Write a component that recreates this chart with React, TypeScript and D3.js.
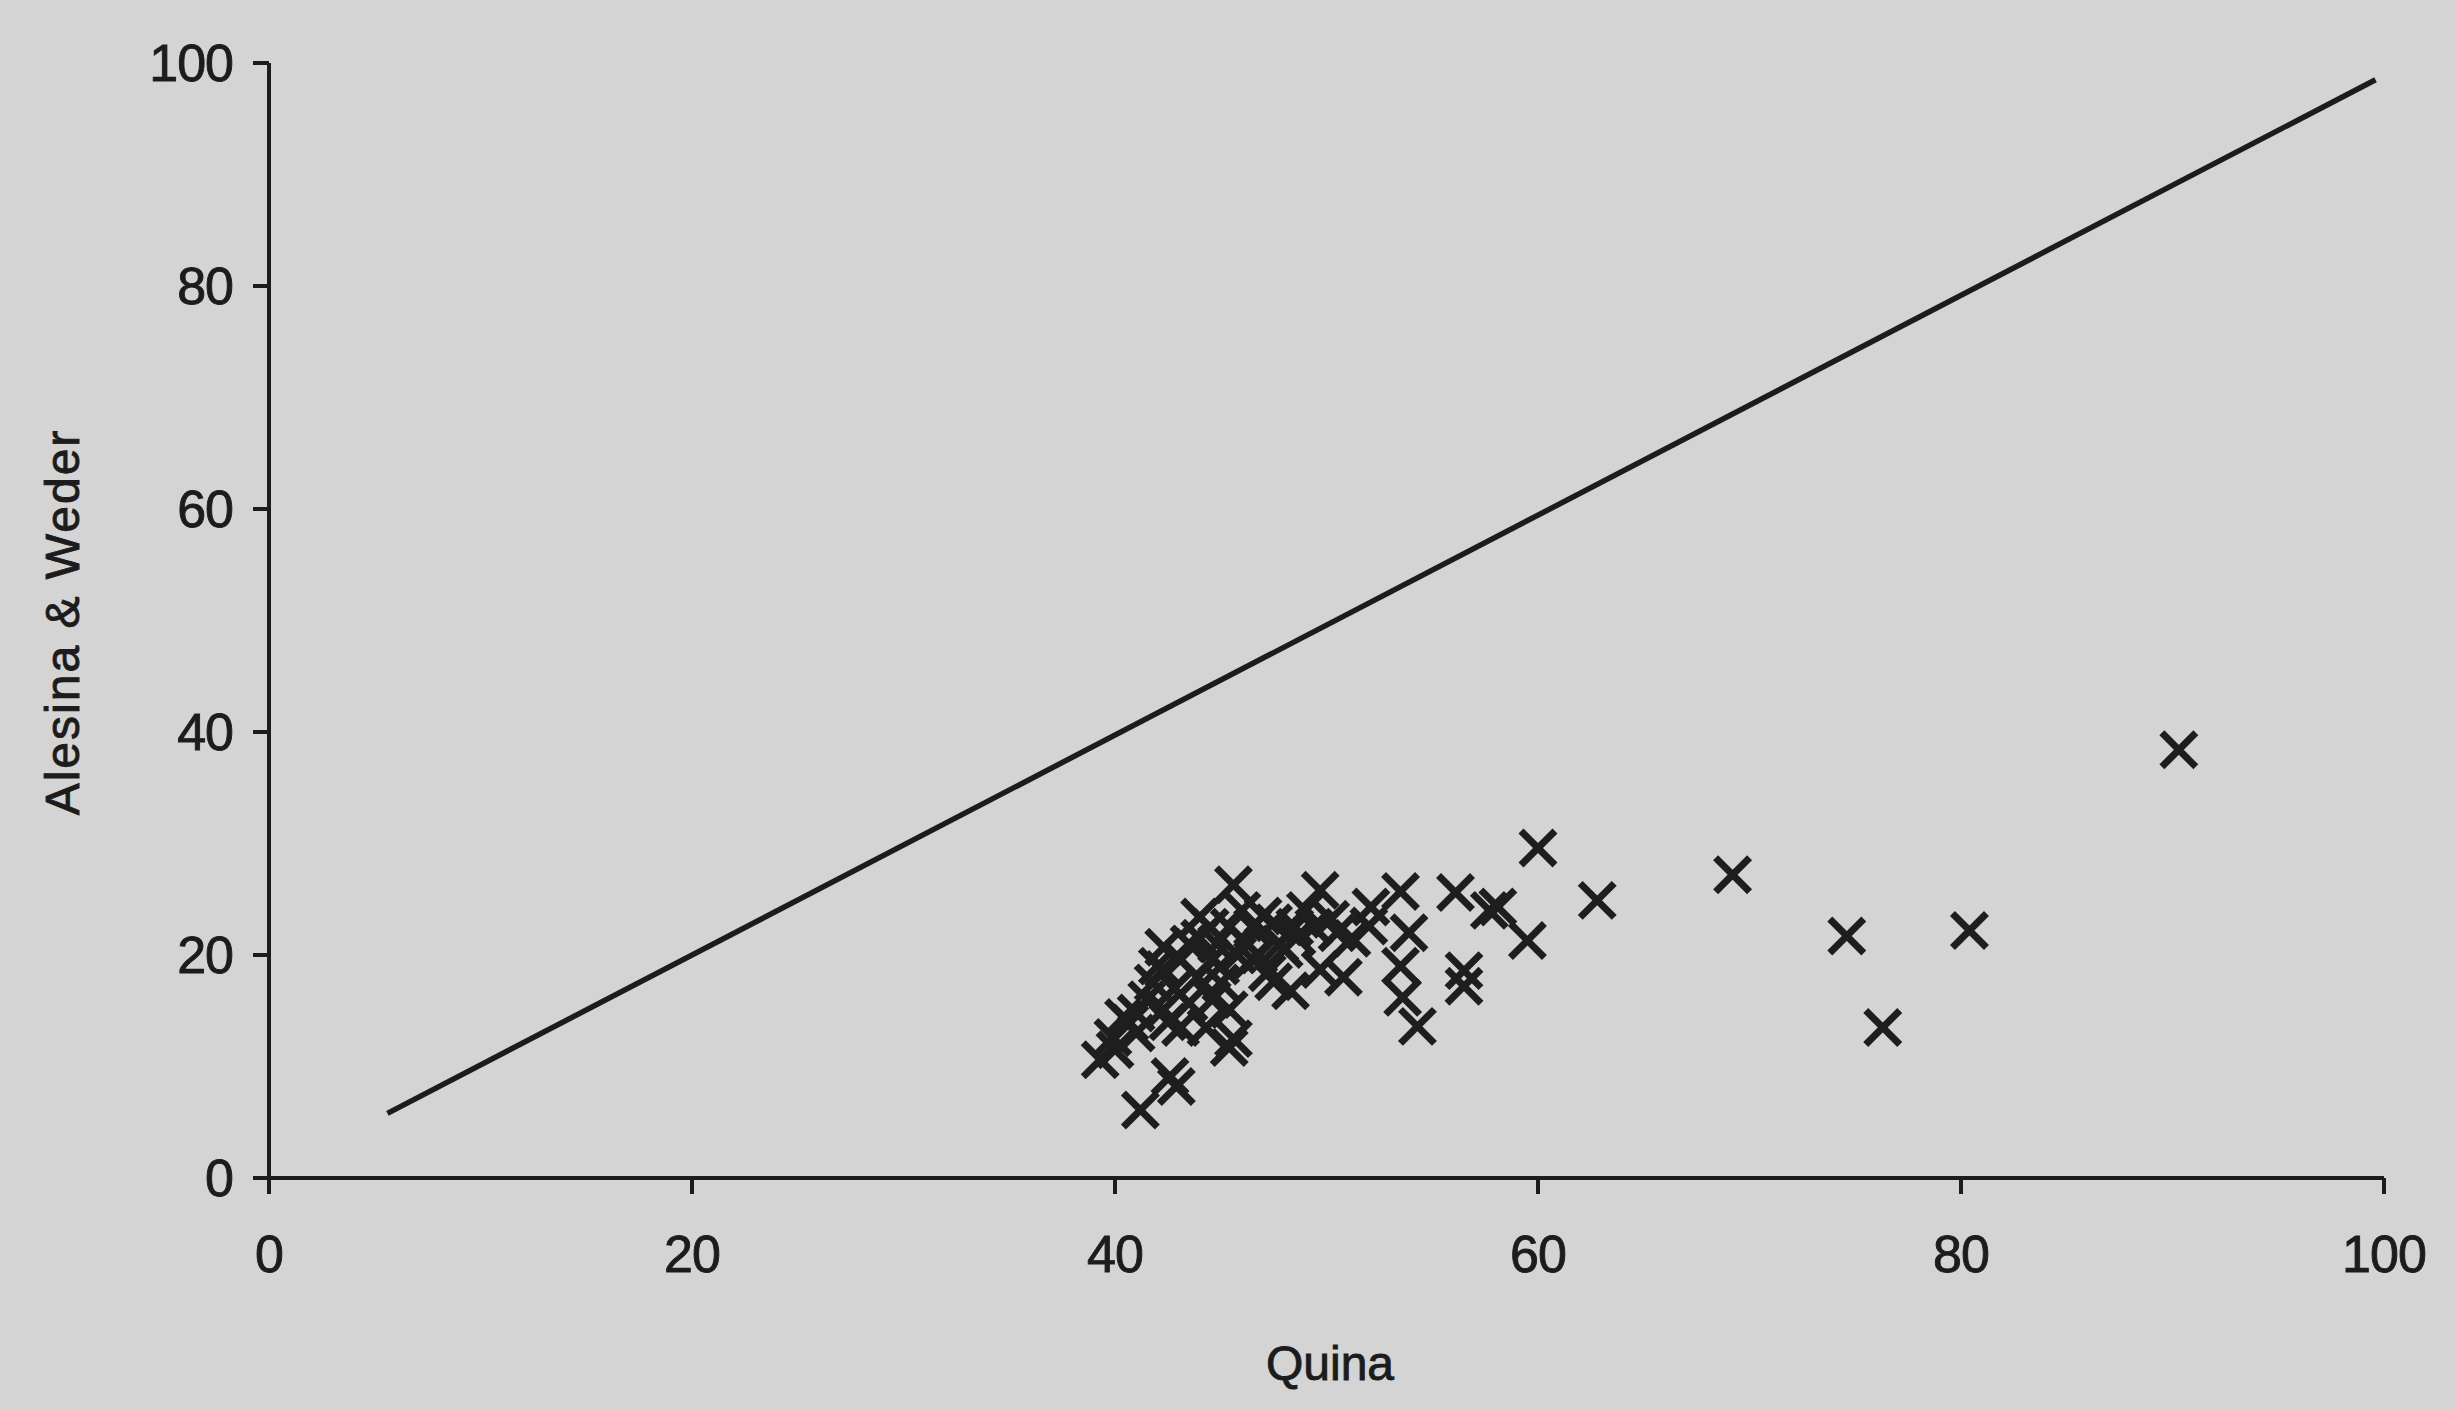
import React from "react";
import * as d3 from "d3";

const quina: number[] = [
  90.3, 80.4, 76.3, 74.6, 69.2, 62.8, 60.0, 59.5,
  58.1, 57.7, 56.1, 56.5, 56.5, 54.3, 53.6, 53.5, 53.9, 53.5, 52.1, 52.0, 50.8, 50.5, 49.7, 49.7, 49.4, 48.6, 48.3, 47.5,
  47.5, 47.2, 46.5, 46.2, 45.6, 45.4, 45.4, 45.4, 45.6, 44.6, 44.6, 44.3, 44.0, 43.9, 43.5, 43.1, 43.1, 42.9, 42.6, 42.3,
  42.3, 42.3, 41.5, 41.2, 40.7, 40.4, 39.9, 39.3, 41.0, 44.8, 46.0, 48.0, 47.0, 49.0, 50.2, 51.2, 45.0, 46.8, 44.0, 42.8,
  41.8, 42.0, 43.5, 44.5, 45.8, 46.5, 41.0, 40.0, 42.5, 45.0, 48.5, 47.8,
];
const alesinaWeder: number[] = [
  38.4, 22.2, 13.5, 21.7, 27.2, 24.9, 29.6, 21.3,
  24.3, 24.0, 25.6, 18.6, 17.2, 13.6, 16.2, 19.0, 22.0, 25.7, 24.3, 22.6, 18.0, 22.0, 25.8, 18.7, 22.5, 21.6, 16.8, 17.6,
  22.9, 18.4, 19.6, 21.1, 26.3, 22.5, 15.1, 11.7, 12.5, 19.6, 16.0, 13.5, 23.4, 18.0, 15.7, 19.6, 13.5, 8.2, 9.1, 20.7,
  18.7, 15.1, 16.0, 6.1, 13.9, 14.4, 12.6, 10.6, 14.8, 21.0, 24.0, 20.5, 23.5, 24.0, 23.2, 21.5, 17.5, 20.0, 21.5, 17.0,
  17.5, 19.0, 21.0, 22.5, 20.0, 22.5, 13.0, 11.5, 14.0, 19.0, 22.5, 21.0,
];
const refLineX: number[] = [5.6, 99.6];
const refLineY: number[] = [5.8, 98.5];
const xTicks: number[] = [0, 20, 40, 60, 80, 100];
const yTicks: number[] = [0, 20, 40, 60, 80, 100];
const xTitle = "Quina";
const yTitle = "Alesina & Weder";

const W = 2456;
const H = 1410;
const FONT = "'Liberation Sans', Arial, sans-serif";
const INK = "#1c1c1c";

export default function App() {
  const x = d3.scaleLinear().domain([0, 100]).range([269, 2384]);
  const y = d3.scaleLinear().domain([0, 100]).range([1178, 63]);
  const line = d3
    .line<[number, number]>()
    .x((d) => x(d[0]))
    .y((d) => y(d[1]));
  const refPts: [number, number][] = refLineX.map((v, i) => [v, refLineY[i]]);
  const pts = quina.map((v, i) => ({ qx: v, ay: alesinaWeder[i] }));
  const m = 17;
  const textStyle = { stroke: INK, strokeWidth: 0.9 };

  return (
    <div style={{ position: "absolute", left: 0, top: 0 }}>
      <svg width={W} height={H} style={{ display: "block", background: "#d4d4d4" }}>
        <rect x={0} y={0} width={W} height={H} fill="#d4d4d4" />
        {/* axes */}
        <line x1={x(0)} x2={x(0)} y1={y(100)} y2={y(0)} stroke={INK} strokeWidth={4} />
        <line x1={x(0)} x2={x(100)} y1={y(0)} y2={y(0)} stroke={INK} strokeWidth={4} />
        {yTicks.map((t) => (
          <g key={"y" + t}>
            <line x1={x(0) - 16} x2={x(0)} y1={y(t)} y2={y(t)} stroke={INK} strokeWidth={4} />
            <text
              x={x(0) - 36}
              y={y(t)}
              textAnchor="end"
              dominantBaseline="central"
              fontFamily={FONT}
              fontSize={52}
              letterSpacing={-1}
              fill={INK}
              style={textStyle}
            >
              {t}
            </text>
          </g>
        ))}
        {xTicks.map((t) => (
          <g key={"x" + t}>
            <line x1={x(t)} x2={x(t)} y1={y(0)} y2={y(0) + 16} stroke={INK} strokeWidth={4} />
            <text
              x={x(t)}
              y={y(0) + 76}
              textAnchor="middle"
              dominantBaseline="central"
              fontFamily={FONT}
              fontSize={52}
              letterSpacing={-1}
              fill={INK}
              style={textStyle}
            >
              {t}
            </text>
          </g>
        ))}
        <text
          x={1330}
          y={1363}
          textAnchor="middle"
          dominantBaseline="central"
          fontFamily={FONT}
          fontSize={48}
          fill={INK}
          style={textStyle}
        >
          {xTitle}
        </text>
        <text
          transform={`translate(62,622) rotate(-90)`}
          textAnchor="middle"
          dominantBaseline="central"
          fontFamily={FONT}
          fontSize={48}
          letterSpacing={2}
          fill={INK}
          style={textStyle}
        >
          {yTitle}
        </text>
        {/* reference line */}
        <path d={line(refPts) || ""} fill="none" stroke={INK} strokeWidth={5.5} />
        {/* markers */}
        {pts.map((p, i) => {
          const cx = x(p.qx);
          const cy = y(p.ay);
          return (
            <g key={i} stroke="#1e1e1e" strokeWidth={7}>
              <line x1={cx - m} y1={cy - m} x2={cx + m} y2={cy + m} />
              <line x1={cx - m} y1={cy + m} x2={cx + m} y2={cy - m} />
            </g>
          );
        })}
      </svg>
    </div>
  );
}
